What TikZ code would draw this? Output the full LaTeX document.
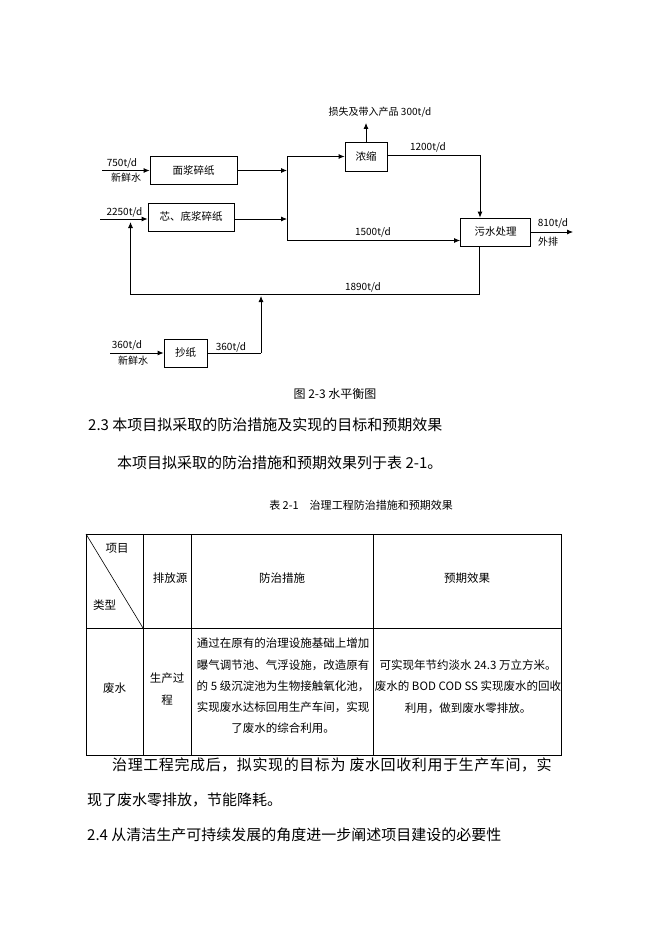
\documentclass[tikz,border=0pt]{standalone}
\usepackage{fontspec}
\setmainfont{Noto Sans CJK SC}
\usetikzlibrary{arrows.meta}
\tikzset{
  flowbox/.style = {draw, line width = 0.8pt, inner sep = 0pt, minimum height = 28pt, font = \fontsize{10.5}{12}\selectfont},
  pipe/.style = {line width = 0.8pt},
  flow/.style = {pipe, -{Latex[length = 6pt, width = 5pt]}},
  lbl/.style = {inner sep = 0pt, font = \fontsize{10}{12}\selectfont},
  body/.style = {anchor = west, inner sep = 0pt, font = \fontsize{15}{18}\selectfont},
  cell/.style = {inner sep = 0pt, align = center, font = \fontsize{11.5}{21.3}\selectfont}
}
\begin{document}
\begin{tikzpicture}[x = 1pt, y = -1pt]
  \useasboundingbox [fill = white] (0, 0) rectangle (662, 936);
  \node (mian) at (193.5, 170.5) [flowbox, minimum width = 87pt] {面浆碎纸};
  \node (xin) at (191, 217) [flowbox, minimum width = 86pt] {芯、底浆碎纸};
  \node (nong) at (366, 156.5) [flowbox, minimum width = 42pt, minimum height = 29pt] {浓缩};
  \node (wu) at (495.5, 232) [flowbox, minimum width = 70pt] {污水处理};
  \node (chao) at (185.5, 353) [flowbox, minimum width = 43pt] {抄纸};
  \coordinate (in1) at (102, 170.5);
  \coordinate (in2) at (100, 219);
  \coordinate (in3) at (110, 353);
  \coordinate (jtop) at (287, 156.5);
  \coordinate (jbot) at (287, 240.5);
  \coordinate (loss) at (366, 123);
  \coordinate (turn) at (480, 155);
  \coordinate (out) at (573, 232);
  \coordinate (rb) at (479, 294);
  \coordinate (lb) at (130.5, 294);
  \coordinate (up) at (261, 353);
  \draw [flow] (in1) -- (mian.west);
  \draw [flow] (in2) -- (in2 -| xin.west);
  \draw [flow] (mian.east) -- (mian.east -| jtop);
  \draw [flow] (in2 -| xin.east) -- (in2 -| jtop);
  \draw [pipe] (jtop) -- (jbot);
  \draw [flow] (jtop) -- (nong.west);
  \draw [flow] (jbot) -- (jbot -| wu.west);
  \draw [flow] (nong.north) -- (loss);
  \draw [flow] (nong.east |- turn) -- (turn) -- (turn |- wu.north);
  \draw [flow] (wu.east) -- (out);
  \draw [flow] (rb |- wu.south) -- (rb) -- (lb) -- ([yshift = -3pt]lb |- in2);
  \draw [flow] (in3) -- (chao.west);
  \draw [pipe] (chao.east) -- (up);
  \draw [flow] (up) -- ([yshift = -2pt]up |- rb);
  \node (l750) at (122, 163) [lbl] {750t/d};
  \node (x750) at (126, 178) [lbl] {新鲜水};
  \node (l2250) at (124.5, 212) [lbl] {2250t/d};
  \node (lloss) at (380, 112) [lbl] {损失及带入产品 300t/d};
  \node (l1200) at (428, 147) [lbl] {1200t/d};
  \node (l1500) at (373, 232) [lbl] {1500t/d};
  \node (l810) at (553, 223) [lbl] {810t/d};
  \node (lout) at (548, 242) [lbl] {外排};
  \node (l1890) at (363, 287) [lbl] {1890t/d};
  \node (l360) at (127, 345) [lbl] {360t/d};
  \node (x360) at (133, 361) [lbl] {新鲜水};
  \node (l360b) at (231, 347) [lbl] {360t/d};
  \node (fig) at (335, 394) [inner sep = 0pt, font = \fontsize{12}{14}\selectfont] {图 2-3 水平衡图};
  \node (s23) at (88, 425) [body] {2.3 本项目拟采取的防治措施及实现的目标和预期效果};
  \node (p1) at (117, 463) [body] {本项目拟采取的防治措施和预期效果列于表 2-1。};
  \node (tab) at (361, 505) [inner sep = 0pt, font = \fontsize{11}{13}\selectfont] {表 2-1\quad 治理工程防治措施和预期效果};
  \draw [line width = 0.8pt] (86, 534) rectangle (561, 755);
  \draw [line width = 0.8pt] (86, 628) -- (561, 628);
  \foreach \x in {143, 191, 373}
    \draw [line width = 0.8pt] (\x, 534) -- (\x, 755);
  \draw [line width = 0.6pt] (86, 534) -- (143, 628);
  \node (h1) at (117, 548) [cell] {项目};
  \node (h2) at (104.5, 605) [cell] {类型};
  \node (h3) at (170, 578) [cell] {排放源};
  \node (h4) at (282, 578) [cell] {防治措施};
  \node (h5) at (467, 578) [cell] {预期效果};
  \node (c1) at (114.5, 688) [cell] {废水};
  \node (c2) at (167, 689) [cell] {生产过\\程};
  \node (c3) at (283, 686) [cell] {通过在原有的治理设施基础上增加\\曝气调节池、气浮设施，改造原有\\的 5 级沉淀池为生物接触氧化池，\\实现废水达标回用生产车间，实现\\了废水的综合利用。};
  \node (c4) at (468, 686.5) [cell] {可实现年节约淡水 24.3 万立方米。\\废水的 BOD COD SS 实现废水的回收\\利用，做到废水零排放。};
  \node (p2) at (112, 765) [body] {\addfontfeature{LetterSpace = 4}治理工程完成后，拟实现的目标为 废水回收利用于生产车间，实};
  \node (p3) at (87, 800) [body] {现了废水零排放，节能降耗。};
  \node (s24) at (87, 835) [body] {2.4 从清洁生产可持续发展的角度进一步阐述项目建设的必要性};
\end{tikzpicture}
\end{document}
